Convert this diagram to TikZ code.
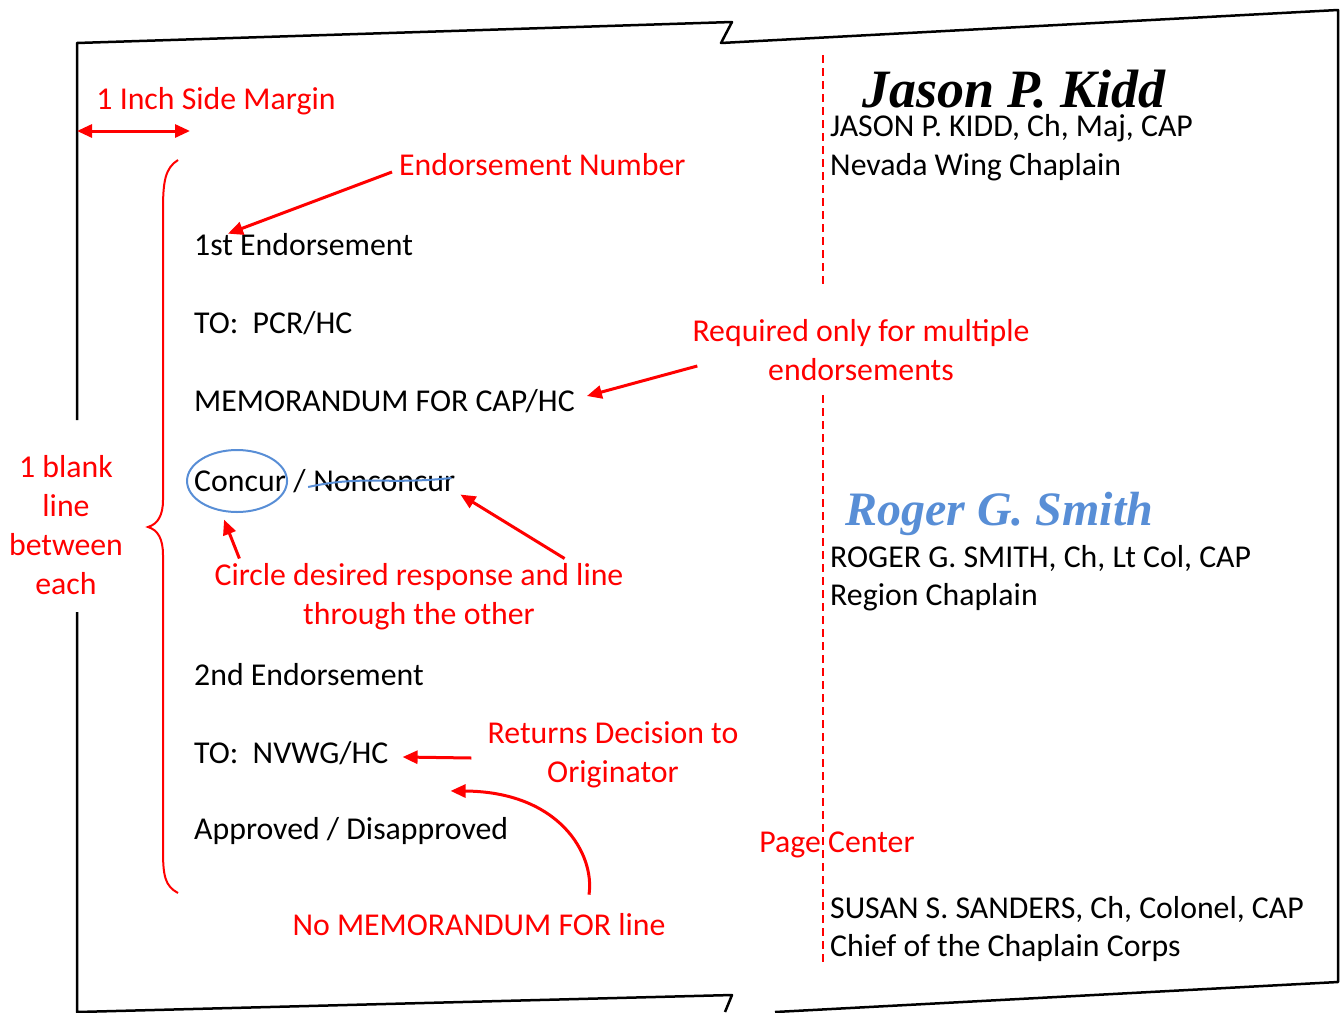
\documentclass[tikz,border=0pt]{standalone}
\usepackage{fontspec}
\setmainfont{Carlito}
\newfontfamily\sigfont{Liberation Serif}
\usetikzlibrary{arrows.meta,positioning}
\definecolor{penblue}{RGB}{88,142,214}
\tikzset{
    >={Triangle[length=15pt,width=13pt]},
    memo/.style={anchor=west, inner sep=0pt, font=\fontsize{31.8}{39}\selectfont},
    note/.style={text=red, inner sep=0pt, align=center, font=\fontsize{31.8}{39}\selectfont},
    sig/.style={anchor=west, inner sep=0pt},
    pointer/.style={draw=red, line width=3pt, ->},
    sheet/.style={draw=black, line width=2.5pt, line join=round},
}
\begin{document}
\begin{tikzpicture}[x=1pt,y=-1pt]
    \useasboundingbox (0,0) rectangle (1340,1012);
    % page outline with tear marks
    \draw[sheet] (77,420) -- (77,43) -- (732,22) -- (721,43) -- (1338,10) -- (1338,982) -- (775,1012);
    \draw[sheet] (77,612) -- (77,1012) -- (732,995) -- (725,1012);
    % page centre
    \draw[red, line width=1.5pt, dash pattern=on 8pt off 5pt] (823,55) -- (823,285) (823,395) -- (823,962);
    % brace
    \draw[red, line width=2pt] (178,160) .. controls (165,168) and (163,182) .. (163,210) -- (163,500)
        .. controls (163,515) and (158,524) .. (148,527) .. controls (158,530) and (163,539) .. (163,555)
        -- (163,850) .. controls (163,876) and (165,886) .. (178,893);

    % endorsement lines
    \node[memo] (e1) at (194,245) {1st Endorsement};
    \node[memo] (to1) at (194,323) {TO:\ \ PCR/HC};
    \node[memo] (memo1) at (194,401) {MEMORANDUM FOR CAP/HC};
    \node[memo] (yes) at (194,481) {Concur};
    \node[memo, right=0pt of yes] (slash) {\kern0.226em/\kern0.226em};
    \node[memo, right=0pt of slash] (no) {Nonconcur};
    \node[memo] (e2) at (194,675) {2nd Endorsement};
    \node[memo] (to2) at (194,753) {TO:\ \ NVWG/HC};
    \node[memo] (appr) at (194,831) {Approved / Disapproved};

    \draw[penblue, line width=2pt] ([xshift=-3]yes.center) ellipse (50pt and 31pt);
    \draw[penblue, line width=2pt] ([shift={(-5,6)}]no.west) .. controls ([shift={(50,-6)}]no.west)
        and ([shift={(-70,4)}]no.east) .. ([shift={(-4,-3)}]no.east);

    % signature blocks
    \node[sig, font=\sigfont\bfseries\itshape\fontsize{54}{54}\selectfont] (sig1) at (862,89) {Jason P. Kidd};
    \node[memo] (name1) at (830,128) {JASON P. KIDD, Ch, Maj, CAP};
    \node[memo] (duty1) at (830,167) {Nevada Wing Chaplain};
    \node[sig, text=penblue, font=\sigfont\bfseries\itshape\fontsize{48}{48}\selectfont] (sig2) at (845,514) {Roger G. Smith};
    \node[memo] (name2) at (830,558) {ROGER G. SMITH, Ch, Lt Col, CAP};
    \node[memo] (duty2) at (830,597) {Region Chaplain};
    \node[memo] (name3) at (830,909) {SUSAN S. SANDERS, Ch, Colonel, CAP};
    \node[memo] (duty3) at (830,948) {Chief of the Chaplain Corps};

    % notes
    \node[note] (margin) at (216,101) {1 Inch Side Margin};
    \node[note, anchor=west] (numlbl) at (399,165) {Endorsement Number};
    \node[note] (multi) at (861,350) {Required only for multiple\\endorsements};
    \node[note] (circ) at (419,597) {Circle desired response and line\\through the other};
    \node[note] (ret) at (613,755) {Returns Decision to\\Originator};
    \node[note] (nomemo) at (479,925) {No MEMORANDUM FOR line};
    \node[note] (blank) at (66,525) {1 blank\\line\\between\\each};
    \node[note] (center) at (837,845) {Page Center};

    \coordinate (edgeL) at (77,131);
    \coordinate (edgeR) at (190,131);
    \draw[pointer, <->] (edgeL) -- (edgeR);
    \draw[pointer] ([shift={(-7,7)}]numlbl.west) -- ([xshift=34]e1.north west);
    \draw[pointer] ([shift={(5,16)}]multi.west) -- ([shift={(12,-5)}]memo1.east);
    \draw[pointer] ([shift={(25,-5)}]circ.north west) -- ([shift={(-16,28)}]yes.south);
    \draw[pointer] ([shift={(-59,-5)}]circ.north east) -- ([shift={(5,3)}]no.south east);
    \draw[pointer] ([shift={(-16,3)}]ret.west) -- ([shift={(14,4)}]to2.east);
    \draw[pointer] ([shift={(110,-19)}]nomemo.north) .. controls ([shift={(116,-60)}]nomemo.north)
        and ([shift={(80,-122)}]nomemo.north) .. ([shift={(62,26)}]to2.south east);
\end{tikzpicture}
\end{document}
